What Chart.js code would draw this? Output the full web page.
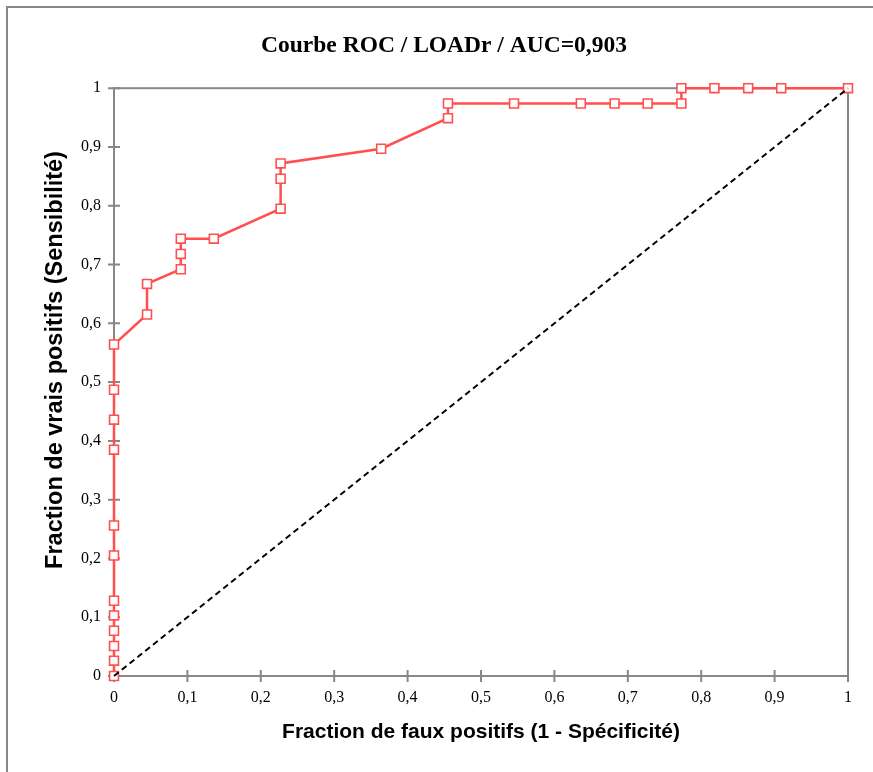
<!DOCTYPE html>
<html lang="fr">
<head>
    <meta charset="UTF-8">
    <title>Courbe ROC / LOADr</title>
    <script src="https://cdn.jsdelivr.net/npm/chart.js"></script>
    <style>
        html, body { margin: 0; padding: 0; background: #fff; overflow: hidden; }
        #wrap { width: 873px; height: 772px; }
    </style>
</head>
<body>
    <div id="wrap"><canvas id="rocChart" width="873" height="772"></canvas></div>

    <script>
        // Fraction de faux positifs (1 - spécificité)
        const fpr = [0, 0, 0, 0, 0, 0, 0, 0, 0, 0, 0, 0,
                     0.045, 0.045, 0.091, 0.091, 0.091, 0.136, 0.227, 0.227, 0.227,
                     0.364, 0.455, 0.455, 0.545, 0.636, 0.682, 0.727, 0.773, 0.773,
                     0.818, 0.864, 0.909, 1];
        // Fraction de vrais positifs (sensibilité)
        const tpr = [0, 0.026, 0.051, 0.077, 0.103, 0.128, 0.205, 0.256, 0.385, 0.436, 0.487, 0.564,
                     0.615, 0.667, 0.692, 0.718, 0.744, 0.744, 0.795, 0.846, 0.872,
                     0.897, 0.949, 0.974, 0.974, 0.974, 0.974, 0.974, 0.974, 1,
                     1, 1, 1, 1];
        const diagX = [0, 1];
        const diagY = [0, 1];
        const tickLabels = ["0", "0,1", "0,2", "0,3", "0,4", "0,5", "0,6", "0,7", "0,8", "0,9", "1"];
        const yTitle = "Fraction de vrais positifs (Sensibilité)";

        const rocPoints = fpr.map((x, i) => ({ x: x, y: tpr[i] }));
        const diagPoints = diagX.map((x, i) => ({ x: x, y: diagY[i] }));

        const axisGrey = "#878787";

        // cadre extérieur, cadre de la zone de tracé, graduations croisées, titre vertical
        const framePlugin = {
            id: "frame",
            beforeDraw(chart) {
                const ctx = chart.ctx;
                ctx.save();
                ctx.strokeStyle = axisGrey;
                ctx.lineWidth = 2;
                ctx.beginPath();
                ctx.moveTo(7, 800);
                ctx.lineTo(7, 7);
                ctx.lineTo(900, 7);
                ctx.stroke();
                ctx.restore();
            },
            beforeDatasetsDraw(chart) {
                const { ctx, chartArea: a, scales } = chart;
                ctx.save();
                ctx.strokeStyle = axisGrey;
                ctx.lineWidth = 2;
                ctx.strokeRect(a.left, a.top, a.right - a.left, a.bottom - a.top);
                ctx.beginPath();
                scales.x.ticks.forEach(t => {
                    const px = scales.x.getPixelForValue(t.value);
                    ctx.moveTo(px, a.bottom - 6);
                    ctx.lineTo(px, a.bottom + 6);
                });
                scales.y.ticks.forEach(t => {
                    const py = scales.y.getPixelForValue(t.value);
                    ctx.moveTo(a.left - 6, py);
                    ctx.lineTo(a.left + 6, py);
                });
                ctx.stroke();

                // titre de l'axe vertical, un peu au-dessus du centre comme dans l'original
                ctx.translate(56, 360);
                ctx.rotate(-Math.PI / 2);
                ctx.fillStyle = "#000";
                ctx.font = "bold 23.5px 'Liberation Sans', Arial, sans-serif";
                ctx.textAlign = "center";
                ctx.textBaseline = "middle";
                ctx.fillText(yTitle, 0, 0);
                ctx.restore();
            }
        };

        const tickFont = { family: "'Liberation Serif', serif", size: 16 };

        new Chart(document.getElementById("rocChart"), {
            type: "scatter",
            data: {
                datasets: [
                    {
                        label: "Hasard",
                        data: diagPoints,
                        showLine: true,
                        borderColor: "#000",
                        borderWidth: 2,
                        borderDash: [6, 4],
                        pointRadius: 0,
                        clip: false
                    },
                    {
                        label: "LOADr",
                        data: rocPoints,
                        showLine: true,
                        borderColor: "#ff4f4f",
                        borderWidth: 2.5,
                        pointStyle: "rect",
                        pointRadius: 6.3,
                        pointBorderWidth: 1.6,
                        pointBackgroundColor: "#fff",
                        pointBorderColor: "#ff4f4f",
                        clip: false
                    }
                ]
            },
            options: {
                responsive: false,
                animation: false,
                layout: { padding: { left: 40, right: 25, top: 0, bottom: 0 } },
                plugins: {
                    legend: { display: false },
                    tooltip: { enabled: false },
                    title: {
                        display: true,
                        text: "Courbe ROC / LOADr / AUC=0,903",
                        color: "#000",
                        font: { family: "'Liberation Serif', serif", size: 23.5, weight: "bold" },
                        padding: { top: 32, bottom: 28 }
                    }
                },
                scales: {
                    x: {
                        type: "linear",
                        min: 0,
                        max: 1,
                        ticks: {
                            stepSize: 0.1,
                            color: "#000",
                            font: tickFont,
                            padding: 12,
                            maxRotation: 0,
                            callback: (v, i) => tickLabels[i]
                        },
                        grid: { display: true, drawOnChartArea: false, drawTicks: false },
                        border: { display: false },
                        title: {
                            display: true,
                            text: "Fraction de faux positifs (1 - Spécificité)",
                            color: "#000",
                            font: { family: "'Liberation Sans', Arial, sans-serif", size: 21, weight: "bold" },
                            padding: { top: 0, bottom: 27 }
                        },
                        afterFit: s => { s.height = 96; }
                    },
                    y: {
                        type: "linear",
                        min: 0,
                        max: 1,
                        ticks: {
                            stepSize: 0.1,
                            color: "#000",
                            font: tickFont,
                            padding: 13,
                            callback: (v, i) => tickLabels[i]
                        },
                        grid: { display: true, drawOnChartArea: false, drawTicks: false },
                        border: { display: false },
                        title: { display: false },
                        afterFit: s => { s.width = 74; }
                    }
                }
            },
            plugins: [framePlugin]
        });
    </script>
</body>
</html>
